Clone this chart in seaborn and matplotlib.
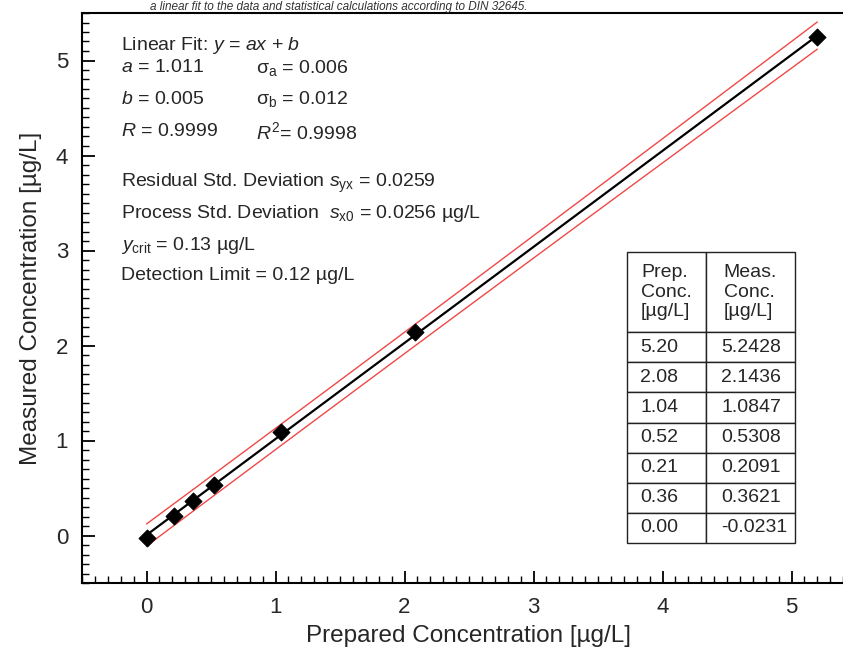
import numpy as np
import pandas as pd
import matplotlib
matplotlib.use("Agg")
import matplotlib.pyplot as plt
import seaborn as sns
from matplotlib.ticker import MultipleLocator

# calibration data (table order as in the reference)
prep_conc = [5.20, 2.08, 1.04, 0.52, 0.21, 0.36, 0.00]
meas_conc = [5.2428, 2.1436, 1.0847, 0.5308, 0.2091, 0.3621, -0.0231]
prep_labels = ["5.20", "2.08", "1.04", "0.52", "0.21", "0.36", "0.00"]
meas_labels = ["5.2428", "2.1436", "1.0847", "0.5308", "0.2091", "0.3621", "-0.0231"]

# fit results (DIN 32645)
slope_a = 1.011
intercept_b = 0.005
s_yx = 0.0259
t_val = 4.032  # t(0.99, f=5), two sided

sns.set_theme(style="ticks")
plt.rcParams['font.family'] = ['Liberation Sans', 'DejaVu Sans']
plt.rcParams['mathtext.fontset'] = 'custom'
plt.rcParams['mathtext.rm'] = 'Liberation Sans'
plt.rcParams['mathtext.it'] = 'Liberation Sans:italic'

df = pd.DataFrame({"prep": prep_conc, "meas": meas_conc})

fig = plt.figure(figsize=(8.43, 6.64), dpi=100)
ax = fig.add_axes([82 / 843, 81 / 664, 774 / 843, 570 / 664])

# fit line and prediction band
x = np.array(prep_conc)
xs = np.linspace(0, max(prep_conc), 60)
fit = slope_a * xs + intercept_b
qx = np.sum((x - x.mean()) ** 2)
half = t_val * s_yx * np.sqrt(1 + 1 / len(x) + (xs - x.mean()) ** 2 / qx)
band = pd.DataFrame({"x": xs, "fit": fit, "lo": fit - half, "hi": fit + half})

sns.lineplot(data=band, x="x", y="hi", ax=ax, color="#f04848", lw=1.0)
sns.lineplot(data=band, x="x", y="lo", ax=ax, color="#f04848", lw=1.0)
sns.lineplot(data=band, x="x", y="fit", ax=ax, color="black", lw=1.6)
sns.scatterplot(data=df, x="prep", y="meas", ax=ax, marker="D", s=75,
                color="black", edgecolor="black", zorder=5)

ax.set_xlim(-0.5, 5.5)
ax.set_ylim(-0.5, 5.5)
ax.xaxis.set_major_locator(MultipleLocator(1))
ax.xaxis.set_minor_locator(MultipleLocator(0.1))
ax.yaxis.set_major_locator(MultipleLocator(1))
ax.yaxis.set_minor_locator(MultipleLocator(0.1))
ax.tick_params(which="major", direction="in", length=9, width=1.3,
               labelsize=16, color="black", pad=10)
ax.tick_params(which="minor", direction="in", length=5, width=1.0, color="black")
for sp in ax.spines.values():
    sp.set_linewidth(1.5)
    sp.set_color("black")

ax.set_xlabel("Prepared Concentration [µg/L]", fontsize=17.5, labelpad=5)
ax.set_ylabel("Measured Concentration [µg/L]", fontsize=17.5, labelpad=10)

# statistics text
fs = 14
tx = ax.transAxes
x1 = (121 - 82) / 774
x2 = (256 - 82) / 774
def ypos(py):
    return (583 - py) / 570

ax.text(x1, ypos(45), r"Linear Fit: $y$ = $ax$ + $b$", transform=tx, fontsize=fs, va="center")
ax.text(x1, ypos(68), r"$a$ = 1.011", transform=tx, fontsize=fs, va="center")
ax.text(x2, ypos(68), r"$\mathrm{\sigma_a}$ = 0.006", transform=tx, fontsize=fs, va="center")
ax.text(x1, ypos(99), r"$b$ = 0.005", transform=tx, fontsize=fs, va="center")
ax.text(x2, ypos(99), r"$\mathrm{\sigma_b}$ = 0.012", transform=tx, fontsize=fs, va="center")
ax.text(x1, ypos(132), r"$R$ = 0.9999", transform=tx, fontsize=fs, va="center")
ax.text(x2, ypos(132), r"$R^2$= 0.9998", transform=tx, fontsize=fs, va="center")
ax.text(x1, ypos(183), r"Residual Std. Deviation $s_{\mathrm{yx}}$ = 0.0259", transform=tx, fontsize=fs, va="center")
ax.text(x1, ypos(214), r"Process Std. Deviation  $s_{\mathrm{x0}}$ = 0.0256 µg/L", transform=tx, fontsize=fs, va="center")
ax.text(x1, ypos(245), r"$y_{\mathrm{crit}}$ = 0.13 µg/L", transform=tx, fontsize=fs, va="center")
ax.text(x1, ypos(276), "Detection Limit = 0.12 µg/L", transform=tx, fontsize=fs, va="center")

# data table
header = ["Prep.\nConc.\n[µg/L]", "Meas.\nConc.\n[µg/L]"]
cells = [[p, m] for p, m in zip(prep_labels, meas_labels)]
tb_left = (627 - 82) / 774
tb_w = (795 - 627) / 774
tb_bot = (583 - 543) / 570
tb_h = (543 - 252) / 570
table = ax.table(cellText=cells, colLabels=header, cellLoc="left",
                 colWidths=[0.47, 0.53],
                 bbox=[tb_left, tb_bot, tb_w, tb_h], zorder=6)
table.auto_set_font_size(False)
table.set_fontsize(14)
for (r, c), cell in table.get_celld().items():
    cell.set_linewidth(1.0)
    cell.set_edgecolor("#222222")
    cell.PAD = 0.17
    cell.get_text().set_multialignment("left")
    if r == 0:
        cell.set_height(cell.get_height() * 80 / 30)

# caption above the frame
fig.text(150 / 843, 1 - 1 / 664,
         "a linear fit to the data and statistical calculations according to DIN 32645.",
         fontsize=8.5, style="italic", va="top", ha="left", color="#333333")

fig.savefig("out.png", dpi=100)
